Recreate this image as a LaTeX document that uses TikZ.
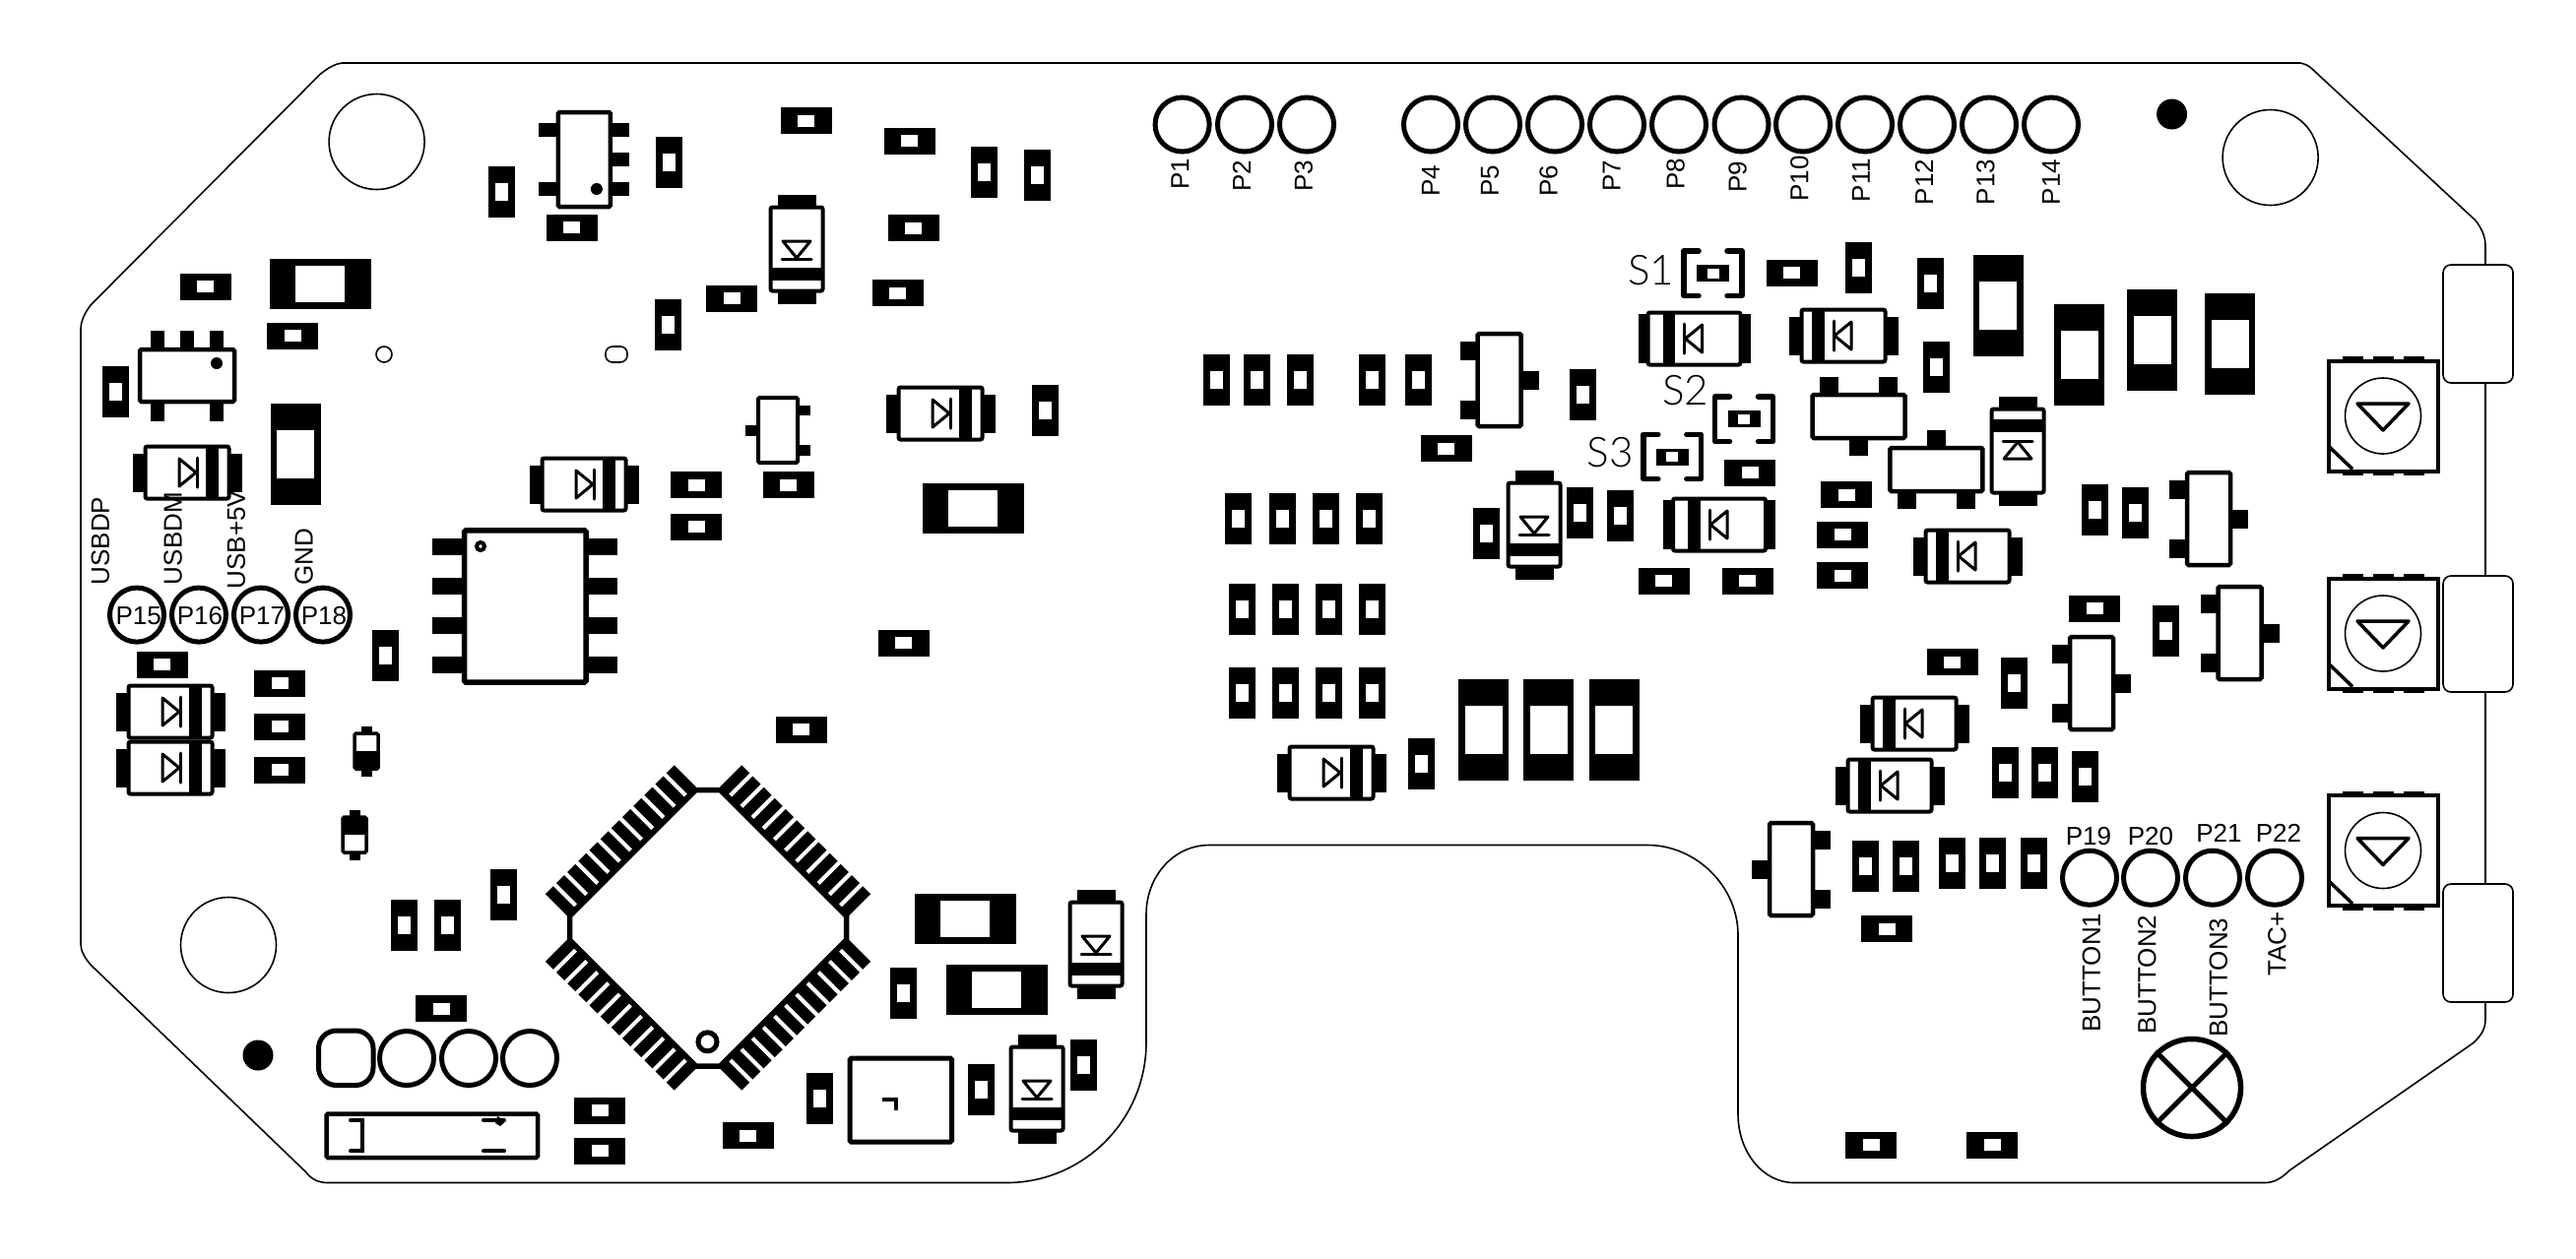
\documentclass[tikz,border=0pt]{standalone}
\usepackage{fontspec}
\setmainfont{Liberation Sans}
\newfontfamily\thinfont{Lato Light}
\usetikzlibrary{positioning,calc}

\newcommand{\diodebody}[3]{%
    \fill (-#2,-#3) rectangle (#2,#3);
    \draw[fill=white, line width=.04cm, rounded corners=.02cm] (-#1,-26.5) rectangle (#1,26.5);
    \fill (19.3,-25) rectangle (31.7,25);
    \draw[line width=.03cm, line join=round] (-8,-14) -- (-8,14) -- (9,0) -- cycle;
    \draw[line width=.03cm, line cap=round] (10,-15) -- (10,15);
}
\tikzset{
    outline/.style={line width=.016cm},
    ring/.style={draw, circle, line width=.05cm, minimum size=.55cm, inner sep=0pt},
    lab/.style={font=\fontsize{7.4}{9}\selectfont, inner sep=0pt},
    vlab/.style={lab, rotate=90},
    slab/.style={font=\thinfont\fontsize{12}{13}\selectfont, inner sep=0pt},
    rh/.pic={\fill (-26,-13.5) rectangle (26,13.5); \fill[white] (-8.5,-6) rectangle (8.5,6);},
    rv/.pic={\fill (-13.5,-26) rectangle (13.5,26); \fill[white] (-6.5,-9) rectangle (6.5,9);},
    cb/.pic={\fill (-51.5,-25.5) rectangle (51.5,25.5); \fill[white] (-25,-18.5) rectangle (25,18.5);},
    cv/.pic={\fill (-25.5,-51.5) rectangle (25.5,51.5); \fill[white] (-19,-24.5) rectangle (19,24.5);},
    diode/.pic={\diodebody{42.5}{55.5}{19.5}},
    diodew/.pic={\diodebody{47}{57}{25}},
    dsmall/.pic={
        \fill (-5.5,-25.5) rectangle (5.5,25.5);
        \draw[fill=white, line width=.035cm, rounded corners=.015cm] (-12,-18) rectangle (12,18);
        \fill (-12,0) rectangle (12,18);
    },
    sot/.pic={
        \fill (-40,-39.5) rectangle (-20,-20.5);
        \fill (-40,20.5) rectangle (-20,39.5);
        \fill (20,-9.5) rectangle (40,9.5);
        \draw[fill=white, line width=.045cm, rounded corners=.015cm] (-22,-47) rectangle (22,47);
    },
    sotsmall/.pic={
        \fill (-33,-5.5) rectangle (-18,5.5);
        \fill (18,-25.5) rectangle (33,-15);
        \fill (18,15) rectangle (33,25.5);
        \draw[fill=white, line width=.04cm, rounded corners=.015cm] (-20,-33) rectangle (20,33);
    },
    icsix/.pic={
        \foreach \py in {-30,30} \fill (-46,\py-7) rectangle (-25,\py+7);
        \foreach \py in {-30,0,30} \fill (25,\py-7) rectangle (46,\py+7);
        \draw[fill=white, line width=.045cm, rounded corners=.015cm] (-26.5,-48) rectangle (26.5,48);
        \fill (12.5,30) circle[radius=6];
    },
    trimmer/.pic={
        \foreach \px in {-31,0,31} {
            \fill (\px-10.5,-60.5) rectangle (\px+10.5,-54);
            \fill (\px-10.5,54) rectangle (\px+10.5,60.5);
        }
        \draw[fill=white, line width=.04cm] (-55.5,-56) rectangle (55.5,56);
        \draw[line width=.016cm] (0,0) circle[radius=38.5];
        \draw[line width=.035cm, line join=round] (-26,-12.5) -- (26,-12.5) -- (0,14.5) -- cycle;
        \draw[line width=.035cm] (-54,32) -- (-31,54);
    },
    bracket/.pic={
        \draw[line width=.055cm, line cap=round, line join=round] (-14.5,-22.7) -- (-29.3,-22.7) -- (-29.3,22.7) -- (-14.5,22.7);
        \draw[line width=.055cm, line cap=round, line join=round] (14.5,-22.7) -- (29.3,-22.7) -- (29.3,22.7) -- (14.5,22.7);
        \fill (-16.5,-8.5) rectangle (16.5,8.5);
        \fill[white] (-6,-5) rectangle (6,5);
    },
    tabbox/.style={draw, fill=white, outline, rounded corners=.08cm},
}

\begin{document}
\begin{tikzpicture}[x=.01cm, y=-.01cm]
    \useasboundingbox (0,0) rectangle (2616,1278);

    % Board edge
    \draw[outline] (347.6,64) -- (2336,64) .. controls (2340,65) and (2344,66) .. (2348,70)
        -- (2514,224) .. controls (2520,232) and (2524,240) .. (2524,250)
        -- (2524,1035) .. controls (2524,1045) and (2520,1052) .. (2511,1060)
        -- (2325,1189) .. controls (2318,1196) and (2310,1201.5) .. (2300,1201.5)
        -- (1822,1201.5) .. controls (1790,1201.5) and (1765,1170) .. (1765,1132)
        -- (1765,950) .. controls (1765,900) and (1722,858.5) .. (1673,858.5)
        -- (1228,858.5) .. controls (1192,858.5) and (1164,890) .. (1164,929)
        -- (1164,1059) .. controls (1164,1138) and (1100,1201.5) .. (1022,1201.5)
        -- (332.5,1201.5) .. controls (324,1201.5) and (316,1198) .. (311,1191)
        -- (92,980) .. controls (86,973) and (82,966) .. (82,959)
        -- (82,335) .. controls (82,326) and (86,318) .. (92,310)
        -- (325,75.5) .. controls (332,70) and (339,65) .. (347.6,64) -- cycle;

    % Edge tabs
    \foreach \ya/\yb in {269/389, 585/703, 898/1018}
        \draw[tabbox] (2481,\ya) rectangle (2552,\yb);

    % Mounting holes and fiducials
    \draw[outline] (382.6,144) circle[radius=48.5];
    \draw[outline] (2305.6,160) circle[radius=48.5];
    \draw[outline] (232,960) circle[radius=48.5];
    \draw[outline] (390,360) circle[radius=8];
    \draw[outline, rounded corners=.07cm] (615,352) rectangle (637,368);
    \fill (2205.6,116) circle[radius=15.5];
    \fill (262,1072) circle[radius=15.5];

    % Small resistors
    \foreach \x/\y in {818.6/122.5, 580.6/231, 743/303, 208.5/291, 297/341, 707/492.7, 800.8/492.7, 707/535,
        923.7/143.3, 927.6/231.5, 911.5/297.6, 1468.7/455.6, 1689.5/590, 1819.6/277, 1777/480.4, 1875/502.5,
        1871.3/543.3, 1871.3/584.5, 1774.6/590, 2127/618.4, 164.6/675.4, 284/694, 284/738, 284/782.4,
        813.6/741.3, 448/1024.5, 609/1128.3, 609/1169.4, 759.6/1153.5, 917.6/653, 1982.6/672.5, 1916/943.5,
        1900/1163.3, 2023/1163.3}
        \pic at (\x,\y) {rh};
    \foreach \x/\y in {509.4/194.7, 679.6/165.3, 117.3/398.4, 678.4/330, 999.3/174.7, 1053.3/177.6, 1061/416.8,
        1235/385.8, 1276.8/385.8, 1320/385.8, 1393/385.8, 1440.3/385.8, 1607/401,
        1257.4/527.4, 1302.4/527.4, 1346.4/527.4, 1390.3/527.4, 1261.3/619, 1305.2/619, 1349/619, 1393/619,
        1261.3/703.9, 1305.2/703.9, 1349/703.9, 1393/703.9, 1509.8/541.7, 1604.4/521.3, 1645/523.7,
        1960.3/287.8, 1887.5/272.3, 1966.4/372.7, 2127/517.6, 2168.3/520.9, 2199.4/640.5,
        391.5/666, 410.4/940, 454.3/940, 511/908.5, 832.5/1116, 917.6/1008.6, 1443.7/775.5, 996.6/1107, 1100.5/1081.5,
        2045.4/694, 2036.5/785.3, 2076.5/785.3, 2117/788.5, 1894.7/880, 1935.3/880, 1982.6/876.8, 2023/876.8, 2065/876.8}
        \pic at (\x,\y) {rv};

    % Big capacitors
    \foreach \x/\y in {325/288, 988.2/516.4, 980.4/933, 1012/1005.4}
        \pic at (\x,\y) {cb};
    \foreach \x/\y in {300/461, 2029/310, 2111.6/360.5, 2185.5/345, 2264.5/349.4, 1506.5/741.7, 1572.7/741.7, 1639.4/741.7}
        \pic at (\x,\y) {cv};

    % Diodes
    \foreach \x/\y/\a in {190/480/0, 593/492/0, 955/420/0, 173/723/0, 173/780/0, 1352/785/0,
        809/253/-90, 1558/533/-90, 1113/959/-90, 1053/1106/-90, 2049/458/90,
        1872/341/180, 1998/565/180, 1944/735/180, 1919/798/180}
        \pic[rotate=\a] at (\x,\y) {diode};
    \pic[rotate=180] at (1720.5,344) {diodew};
    \pic[rotate=180] at (1746,533) {diodew};
    \pic at (372,763) {dsmall};
    \pic[rotate=180] at (360,848) {dsmall};

    % Transistors
    \foreach \x/\y/\a in {1522.6/386/0, 2243/527/0, 2274.5/643/0, 2124/694/0, 1819/883/180, 1887.5/423/-90, 1966.4/477/90}
        \pic[rotate=\a] at (\x,\y) {sot};
    \pic at (790,437) {sotsmall};
    \pic at (593.4,162) {icsix};
    \pic[rotate=90] at (190,381.5) {icsix};

    % SOIC
    \foreach \y in {555,595,635,675} {
        \fill (439,\y-8.5) rectangle (475,\y+8.5);
        \fill (592,\y-8.5) rectangle (627,\y+8.5);
    }
    \draw[fill=white, line width=.055cm, rounded corners=.015cm] (471.6,538.8) rectangle (595,693);
    \draw[line width=.04cm] (488,555) circle[radius=4];

    % QFP
    \foreach \a in {45,135,225,315} {
        \begin{scope}[shift={(719,942.5)}, rotate=\a]
            \fill (105,-92) rectangle (111,92);
            \foreach \k in {-5.5,-4.5,...,5.5}
                \fill (105,\k*15.8-5.7) rectangle (141,\k*15.8+5.7);
        \end{scope}
    }
    \draw[fill=white, line width=.055cm] (706.5,802.5) -- (731.5,802.5) -- (859.5,930.5) -- (859.5,955)
        -- (731.5,1083) -- (706.5,1083) -- (578.5,955) -- (578.5,930.5) -- cycle;
    \draw[line width=.05cm] (718.5,1058.3) circle[radius=9.5];

    % Square part and connector strip
    \draw[line width=.05cm, rounded corners=.015cm] (863,1075) rectangle (966.5,1160);
    \draw[line width=.04cm] (895.5,1117) -- (910,1117) -- (910,1128);
    \draw[line width=.045cm, rounded corners=.015cm] (331.5,1131.5) rectangle (546,1176);
    \draw[line width=.04cm, line cap=round] (356,1137.7) -- (367.7,1137.7) -- (367.7,1169.3) -- (356,1169.3);
    \draw[line width=.04cm, line cap=round] (491,1137.7) -- (512,1137.7);
    \draw[line width=.04cm, line cap=round] (491,1169.3) -- (512,1169.3);
    \fill (505,1134) -- (514,1138.5) -- (508,1144) -- (503,1141) -- cycle;

    % Trimmers
    \foreach \y in {422.5,643.5,864}
        \pic at (2420,\y) {trimmer};

    % Test pads
    \foreach \t/\x in {P1/1200.6, P2/1264, P3/1327, P4/1453, P5/1516, P6/1579, P7/1642, P8/1705, P9/1768.5,
        P10/1831, P11/1894, P12/1957, P13/2020, P14/2083}
        \node[ring] (ring\t) at (\x,126.5) {};
    \foreach \t/\x in {P15/139, P16/202, P17/265, P18/328}
        \node[ring] (ring\t) at (\x,624.6) {};
    \foreach \t/\x in {P19/2122, P20/2184, P21/2247, P22/2310}
        \node[ring] (ring\t) at (\x,891.7) {};
    \foreach \t/\x in {J2/413, J3/476, J4/538}
        \node[ring] (ring\t) at (\x,1075) {};
    \draw[line width=.05cm, rounded corners=.18cm] (323.5,1047) rectangle (379,1102.5);

    % Lamp
    \node[ring, minimum size=.99cm, line width=.055cm] (lamp) at (2226,1105) {};
    \draw[line width=.05cm] (lamp.45) -- (lamp.225);
    \draw[line width=.05cm] (lamp.135) -- (lamp.315);

    % Switch pads
    \foreach \x/\y in {1739.5/277.7, 1771/425.8, 1698.3/464}
        \pic at (\x,\y) {bracket};

    % Labels
    \foreach \t/\x/\y in {P1/1198.4/176.5, P2/1261/179, P3/1324/179, P4/1453/183.5, P5/1513/183.5, P6/1572.7/183.5,
        P7/1636.6/179, P8/1701.7/176.5, P9/1764.6/179.5, P10/1827.4/181.5, P11/1890/183, P12/1954/185, P13/2016.5/185, P14/2083/185,
        USBDP/102/549.6, USBDM/175.7/547, USB+5V/240/548, GND/308.6/566,
        BUTTON1/2123.8/988, BUTTON2/2180.5/990, BUTTON3/2252.8/993, TAC+/2312.3/959}
        \node[vlab] (lab\t) at (\x,\y) {\t};
    \foreach \t/\x/\y in {P15/140.7/626, P16/203/626, P17/266/626, P18/329/626,
        P19/2121/849.6, P20/2184/849.6, P21/2253.4/846.7, P22/2314/846.7}
        \node[lab] (lab\t) at (\x,\y) {\t};
    \foreach \t/\x/\y in {S1/1676.6/274.7, S2/1711.7/397, S3/1635/460}
        \node[slab] (lab\t) at (\x,\y) {\t};
\end{tikzpicture}
\end{document}
